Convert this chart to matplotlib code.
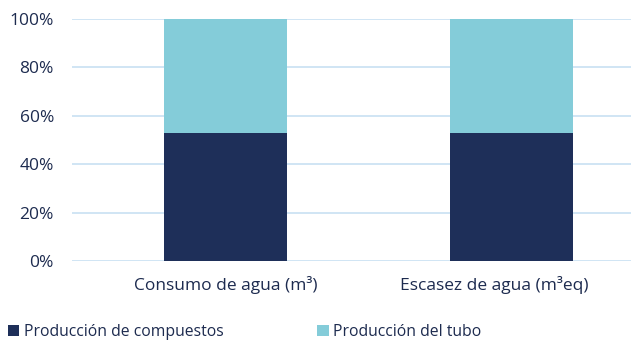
import matplotlib
matplotlib.use("Agg")
import matplotlib.pyplot as plt
import matplotlib.transforms as mtransforms
import numpy as np

# datos del gráfico (porcentaje de contribución)
categorias = ["Consumo de agua (m³)", "Escasez de agua (m³eq)"]
compuestos = [53, 53]
tubo = [47, 47]
series_labels = ["Producción de compuestos", "Producción del tubo"]

color_osc = "#1e2f59"
color_cla = "#84ccd9"
color_txt = "#1d2b4f"
color_grid = "#cde3f3"

plt.rcParams["font.family"] = ["Open Sans", "DejaVu Sans"]

fig = plt.figure(figsize=(6.31, 3.40), dpi=100)
ax = fig.add_axes([72 / 631, 1 - 261 / 340, 1 - 72 / 631, 242 / 340])

x = np.arange(len(categorias))
ax.bar(x, compuestos, width=0.43, color=color_osc, label=series_labels[0], zorder=3)
ax.bar(x, tubo, width=0.43, bottom=compuestos, color=color_cla, label=series_labels[1], zorder=3)

ax.set_xlim(-0.537, 1.418)
ax.set_ylim(0, 100)
ax.set_yticks(range(0, 101, 20))
ax.set_yticklabels([f"{v}%" for v in range(0, 101, 20)])
ax.set_xticks(x)
ax.set_xticklabels(categorias)
ax.tick_params(length=0, colors=color_txt, labelsize=12.5)
ax.tick_params(axis="y", pad=13)
ax.tick_params(axis="x", pad=11)
ax.yaxis.grid(True, color=color_grid, linewidth=1.3, zorder=0)
ax.set_axisbelow(True)
for s in ax.spines.values():
    s.set_visible(False)

# la segunda etiqueta aparece algo desplazada a la izquierda en el original
lbl = ax.get_xticklabels()[1]
lbl.set_transform(lbl.get_transform() + mtransforms.ScaledTranslation(-17 / 100, 0, fig.dpi_scale_trans))

h, l = ax.get_legend_handles_labels()
leg = fig.legend(h, l, loc="lower left", bbox_to_anchor=(-0.003, -0.027), ncol=2,
                 frameon=False, fontsize=11.3, handlelength=0.72, handleheight=0.72,
                 handletextpad=0.3, columnspacing=6.0, borderaxespad=0.2)
for t in leg.get_texts():
    t.set_color(color_txt)

fig.savefig("out.png", dpi=100)
